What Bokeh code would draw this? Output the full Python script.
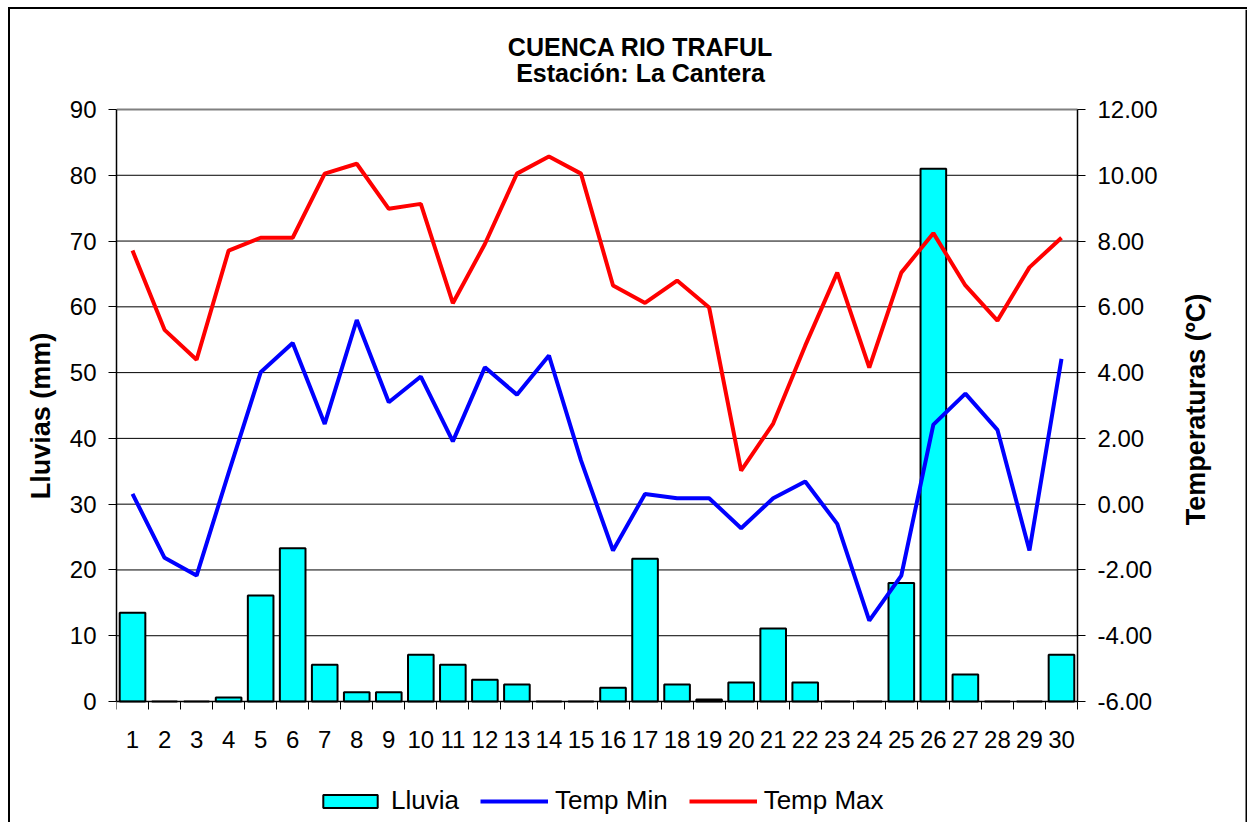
from bokeh.plotting import figure
from bokeh.models import (Range1d, LinearAxis, FixedTicker, NumeralTickFormatter,
                          Legend, LegendItem, Label, Span, ColumnDataSource)
from bokeh.embed import file_html
from bokeh.resources import INLINE
import math

# ---- data ----
dias = list(range(1, 31))
dia_labels = [str(d) for d in dias]
lluvia = [13.5, 0, 0, 0.6, 16.1, 23.3, 5.6, 1.4, 1.4, 7.1,
          5.6, 3.3, 2.6, 0, 0, 2.1, 21.7, 2.6, 0.3, 2.9,
          11.1, 2.9, 0, 0, 18.0, 81.0, 4.1, 0, 0, 7.1]
temp_min = [0.31, -1.63, -2.17, 0.95, 4.01, 4.90, 2.44, 5.60, 3.10, 3.88,
            1.91, 4.16, 3.33, 4.52, 1.33, -1.41, 0.31, 0.18, 0.18, -0.73,
            0.18, 0.69, -0.60, -3.54, -2.17, 2.42, 3.36, 2.26, -1.41, 4.42]
temp_max = [7.71, 5.30, 4.39, 7.71, 8.10, 8.10, 10.05, 10.35, 8.98, 9.13,
            6.11, 7.91, 10.05, 10.57, 10.05, 6.65, 6.12, 6.80, 5.98, 1.02,
            2.45, 4.82, 7.04, 4.15, 7.04, 8.24, 6.65, 5.58, 7.20, 8.10]
lluvia_ticks = list(range(0, 100, 10))
temp_ticks = list(range(-6, 14, 2))
titulo = ["CUENCA RIO TRAFUL", "Estación: La Cantera"]
eje_izq = "Lluvias (mm)"
eje_der = "Temperaturas (ºC)"
series = ["Lluvia", "Temp Min", "Temp Max"]

FONT = "Liberation Sans"

# ---- layout geometry (pixels) ----
PLOT_W, PLOT_H = 961, 592          # the area spanned by the axes
PAD_TOP, PAD_BOTTOM, PAD_RIGHT = 100, 121, 170   # drawing room around it (titles, legend)
FRAME_W = PLOT_W + PAD_RIGHT
FRAME_H = PLOT_H + PAD_TOP + PAD_BOTTOM

x_lo, x_hi = 0.5, 30.5
y_lo, y_hi = lluvia_ticks[0], lluvia_ticks[-1]
t_lo, t_hi = temp_ticks[0], temp_ticks[-1]
ppx = PLOT_W / (x_hi - x_lo)
ppy = PLOT_H / (y_hi - y_lo)
ppt = PLOT_H / (t_hi - t_lo)

src = ColumnDataSource(dict(dia=dias, lluvia=lluvia, tmin=temp_min, tmax=temp_max))

p = figure(frame_width=FRAME_W, frame_height=FRAME_H,
           output_backend="svg", toolbar_location=None,
           x_range=Range1d(x_lo, x_lo + FRAME_W / ppx),
           y_range=Range1d(y_lo - PAD_BOTTOM / ppy, y_hi + PAD_TOP / ppy),
           min_border_left=106, min_border_right=0,
           min_border_top=0, min_border_bottom=0)
p.styles = {"border-left": "2px solid black", "border-top": "2px solid black",
            "margin-left": "8px", "margin-top": "7px"}
p.extra_y_ranges = {"temp": Range1d(t_lo - PAD_BOTTOM / ppt, t_hi + PAD_TOP / ppt)}
p.outline_line_color = None
p.background_fill_color = "white"
p.border_fill_color = "white"
p.xgrid.visible = False
p.ygrid.visible = False

# horizontal gridlines limited to the plot area, and the grey top edge
p.segment(x0=x_lo, x1=x_hi, y0=lluvia_ticks[1:-1], y1=lluvia_ticks[1:-1],
          line_color="black", line_width=1)
p.segment(x0=x_lo, x1=x_hi, y0=[y_hi], y1=[y_hi], line_color="#808080", line_width=2)

# x axis (fixed at rain = 0)
xa = p.xaxis[0]
xa.fixed_location = 0
xa.bounds = (x_lo, x_hi)
xa.ticker = FixedTicker(ticks=dias, minor_ticks=[d + 0.5 for d in [0] + dias])
xa.major_label_overrides = {d: l for d, l in zip(dias, dia_labels)}
xa.major_tick_out = 0
xa.major_tick_in = 0
xa.minor_tick_out = 8
xa.minor_tick_in = 0
xa.minor_tick_line_color = "black"
xa.axis_line_color = "black"
xa.axis_line_width = 1.5
xa.major_label_text_font = FONT
xa.major_label_text_font_size = "24px"
xa.major_label_text_color = "black"
xa.major_label_standoff = 21

# left axis
ya = p.yaxis[0]
ya.bounds = (y_lo, y_hi)
ya.ticker = FixedTicker(ticks=lluvia_ticks)
ya.major_tick_out = 8
ya.major_tick_in = 0
ya.minor_tick_out = 0
ya.minor_tick_in = 0
ya.major_tick_line_color = "black"
ya.axis_line_color = "black"
ya.axis_line_width = 1.5
ya.major_label_text_font = FONT
ya.major_label_text_font_size = "24px"
ya.major_label_text_color = "black"
ya.major_label_standoff = 12
ya.axis_label = eje_izq
ya.axis_label_text_font = FONT
ya.axis_label_text_font_size = "27px"
ya.axis_label_text_font_style = "bold"
ya.axis_label_text_color = "black"
ya.axis_label_standoff = 11

# right axis (fixed at the right end of the days)
ra = LinearAxis(y_range_name="temp", ticker=FixedTicker(ticks=temp_ticks),
                formatter=NumeralTickFormatter(format="0.00"),
                fixed_location=x_hi, bounds=(t_lo, t_hi))
ra.major_tick_out = 8
ra.major_tick_in = 0
ra.minor_tick_out = 0
ra.minor_tick_in = 0
ra.major_tick_line_color = "black"
ra.axis_line_color = "black"
ra.axis_line_width = 1.5
ra.major_label_text_font = FONT
ra.major_label_text_font_size = "24px"
ra.major_label_text_color = "black"
ra.major_label_standoff = 12
p.add_layout(ra, "right")

# right axis title (bottom-to-top), centred on the axis
p.add_layout(Label(x=PLOT_W + 118, y=PAD_BOTTOM + PLOT_H / 2 - 4,
                   x_units="screen", y_units="screen", text=eje_der,
                   angle=math.pi / 2, text_align="center", text_baseline="middle",
                   text_font=FONT, text_font_size="27px", text_font_style="bold",
                   text_color="black"))

# outer chart border on the right
p.add_layout(Span(location=x_lo + (FRAME_W - 1) / ppx, dimension="height",
                  line_color="black", line_width=2))

# glyphs
bars = p.vbar(x="dia", top="lluvia", bottom=0, width=0.8, source=src,
              fill_color="#00FFFF", line_color="black", line_width=2)
lmin = p.line(x="dia", y="tmin", source=src, y_range_name="temp",
              line_color="#0000FF", line_width=4)
lmax = p.line(x="dia", y="tmax", source=src, y_range_name="temp",
              line_color="#FF0000", line_width=4)

legend = Legend(items=[LegendItem(label=series[0], renderers=[bars]),
                       LegendItem(label=series[1], renderers=[lmin]),
                       LegendItem(label=series[2], renderers=[lmax])],
                orientation="horizontal", location=(196, 2))
legend.label_text_font = FONT
legend.label_text_font_size = "26px"
legend.label_text_color = "black"
legend.glyph_width = 68
legend.glyph_height = 16
legend.label_standoff = 7
legend.spacing = 21
legend.border_line_alpha = 0
legend.background_fill_alpha = 0
legend.margin = 0
legend.padding = 4
p.add_layout(legend, "center")

# two-line title
for txt, yy in zip(titulo, [PAD_BOTTOM + PLOT_H + 63, PAD_BOTTOM + PLOT_H + 37]):
    p.add_layout(Label(x=524, y=yy, x_units="screen", y_units="screen", text=txt,
                       text_align="center", text_baseline="middle",
                       text_font=FONT, text_font_size="25px",
                       text_font_style="bold", text_color="black"))

open("out.html", "w").write(file_html(p, INLINE))
